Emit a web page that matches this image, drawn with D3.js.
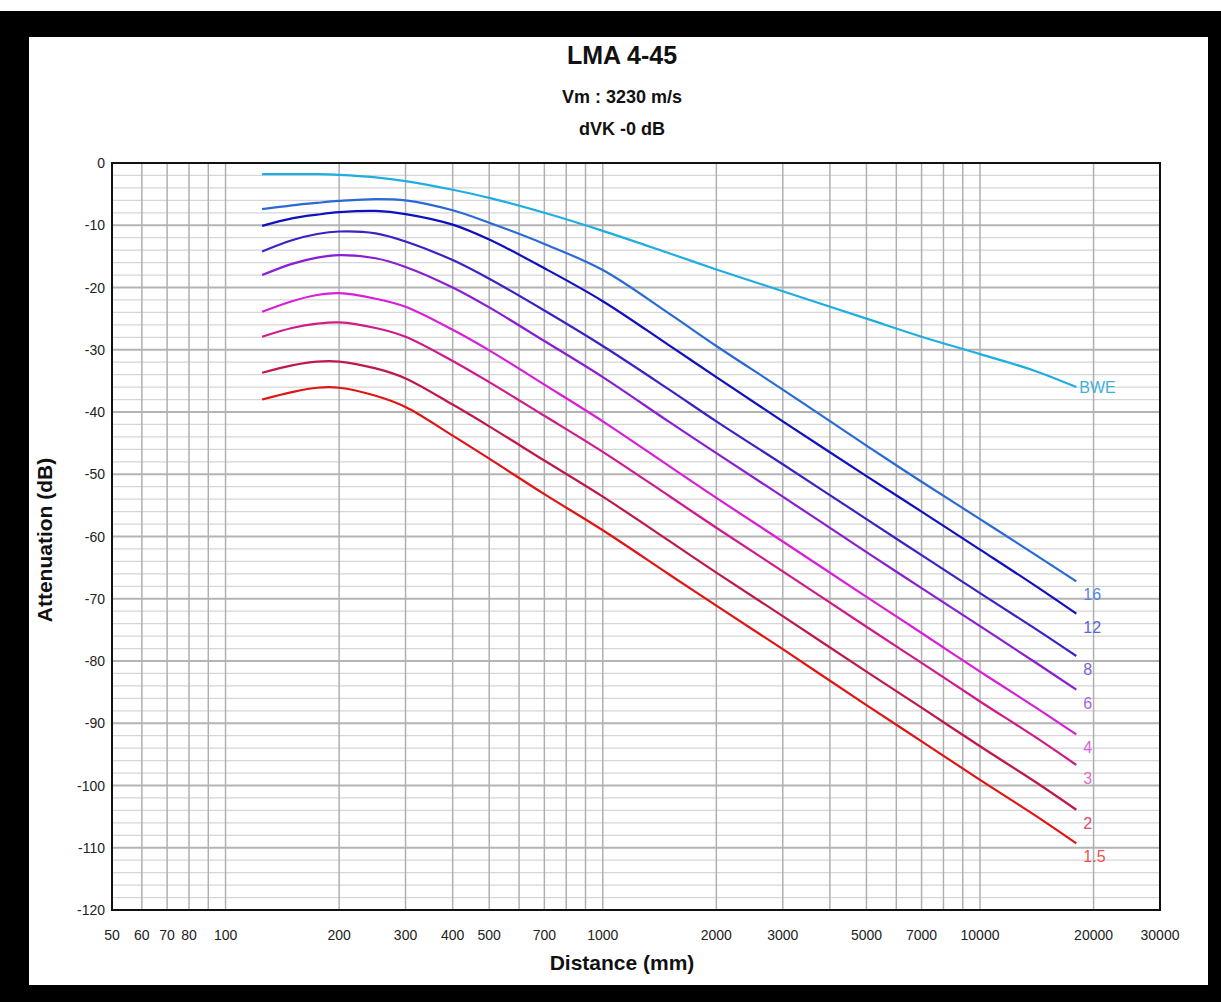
<!DOCTYPE html>
<html>
<head>
<meta charset="utf-8">
<script src="https://cdn.jsdelivr.net/npm/d3@7"></script>
<style>
  body { margin: 0; background: #fff; }
  .tick-label { font-family: "Liberation Sans Narrow", "Arial Narrow", "Liberation Sans", sans-serif; font-size: 14px; fill: #222; }
  .title { font-family: "Liberation Sans", Arial, sans-serif; font-weight: bold; fill: #111; }
</style>
</head>
<body>
<div id="chart"></div>
<script>
// distances (mm) where the curves were read
const distances = [125, 150, 175, 200, 250, 300, 400, 500, 700, 1000, 1500, 2000, 3000, 5000, 7000, 10000, 14000, 18000];

// attenuation (dB) per curve
const bwe  = [-1.8, -1.8, -1.8, -1.9, -2.3, -2.9, -4.3, -5.6, -8.0, -10.9, -14.5, -17.1, -20.6, -25.0, -27.9, -30.7, -33.4, -36.0];
const ks16 = [-7.4, -6.8, -6.4, -6.1, -5.8, -6.0, -7.6, -9.6, -13.0, -17.2, -24.2, -29.4, -36.4, -45.4, -51.2, -57.2, -62.9, -67.2];
const ks12 = [-10.1, -8.9, -8.3, -7.9, -7.7, -8.2, -9.9, -12.3, -16.9, -22.2, -29.3, -34.4, -41.5, -50.3, -56.0, -62.1, -67.9, -72.4];
const ks8  = [-14.2, -12.4, -11.4, -11.0, -11.3, -12.6, -15.6, -18.6, -23.7, -29.4, -36.4, -41.5, -48.4, -57.2, -63.0, -69.1, -74.8, -79.2];
const ks6  = [-18.0, -16.2, -15.2, -14.8, -15.3, -16.7, -20.0, -23.2, -28.6, -34.4, -41.6, -46.6, -53.6, -62.5, -68.3, -74.4, -80.2, -84.6];
const ks4  = [-23.9, -22.2, -21.2, -20.9, -21.8, -23.1, -26.8, -30.1, -35.6, -41.5, -48.7, -53.8, -60.8, -69.7, -75.5, -81.7, -87.4, -91.8];
const ks3  = [-27.9, -26.5, -25.8, -25.6, -26.5, -27.9, -31.8, -35.2, -40.6, -46.4, -53.5, -58.6, -65.6, -74.5, -80.3, -86.5, -92.2, -96.7];
const ks2  = [-33.7, -32.5, -31.9, -31.9, -33.0, -34.6, -38.8, -42.3, -47.8, -53.6, -60.7, -65.8, -72.8, -81.7, -87.5, -93.7, -99.4, -103.9];
const ks15 = [-38.0, -36.8, -36.1, -36.1, -37.4, -39.2, -43.8, -47.5, -53.2, -59.0, -66.1, -71.1, -78.1, -87.1, -92.9, -99.1, -104.8, -109.3];

const seriesNames = ["BWE", "16", "12", "8", "6", "4", "3", "2", "1.5"];
const seriesValues = [bwe, ks16, ks12, ks8, ks6, ks4, ks3, ks2, ks15];
const lineColors  = ["#1eaee2", "#2a6ad6", "#1010c0", "#3c22c4", "#8a1ed2", "#d81ed8", "#d01a8c", "#c01848", "#e01414"];
const labelColors = ["#3eb0e0", "#5a84e0", "#5a64d8", "#7a62dc", "#a464e0", "#e060e0", "#e070c0", "#e04878", "#f05050"];

const xTickLabels = [50, 60, 70, 80, 100, 200, 300, 400, 500, 700, 1000, 2000, 3000, 5000, 7000, 10000, 20000, 30000];
const yTickLabels = [0, -10, -20, -30, -40, -50, -60, -70, -80, -90, -100, -110, -120];

const width = 1221, height = 1002;
const plotLeft = 112, plotRight = 1160, plotTop = 163, plotBottom = 910;

const svg = d3.select("#chart").append("svg")
    .attr("width", width)
    .attr("height", height);

// black frame round the picture
svg.append("rect").attr("x", 0).attr("y", 11).attr("width", width).attr("height", height - 11).attr("fill", "#000");
svg.append("rect").attr("x", 29).attr("y", 37).attr("width", 1208 - 29).attr("height", 985 - 37).attr("fill", "#fff");

const x = d3.scaleLog().domain([50, 30000]).range([plotLeft, plotRight]);
const y = d3.scaleLinear().domain([-120, 0]).range([plotBottom, plotTop]);

// grid
const grid = svg.append("g");
grid.selectAll(".hminor")
    .data(d3.range(-118, 0, 2).filter(v => v % 10 !== 0))
    .join("line")
    .attr("x1", plotLeft).attr("x2", plotRight)
    .attr("y1", d => y(d)).attr("y2", d => y(d))
    .attr("stroke", "#d6d6d6").attr("stroke-width", 1.2);
grid.selectAll(".hmajor")
    .data(yTickLabels.filter(v => v > -120 && v < 0))
    .join("line")
    .attr("x1", plotLeft).attr("x2", plotRight)
    .attr("y1", d => y(d)).attr("y2", d => y(d))
    .attr("stroke", "#b4b4b4").attr("stroke-width", 2);
grid.selectAll(".vline")
    .data(x.ticks().filter(v => v > 50 && v < 30000))
    .join("line")
    .attr("x1", d => x(d)).attr("x2", d => x(d))
    .attr("y1", plotTop).attr("y2", plotBottom)
    .attr("stroke", "#b0b0b0").attr("stroke-width", 1.5);

// plot border
svg.append("rect")
    .attr("x", plotLeft).attr("y", plotTop)
    .attr("width", plotRight - plotLeft).attr("height", plotBottom - plotTop)
    .attr("fill", "none").attr("stroke", "#111").attr("stroke-width", 2);

// tick labels
svg.append("g").selectAll("text")
    .data(yTickLabels)
    .join("text")
    .attr("class", "tick-label")
    .attr("x", plotLeft - 7)
    .attr("y", d => y(d) + 5)
    .attr("text-anchor", "end")
    .text(d => d);

svg.append("g").selectAll("text")
    .data(xTickLabels)
    .join("text")
    .attr("class", "tick-label")
    .attr("x", d => x(d))
    .attr("y", plotBottom + 30)
    .attr("text-anchor", "middle")
    .text(d => d);

// curves
const line = d3.line()
    .x(d => x(d[0]))
    .y(d => y(d[1]))
    .curve(d3.curveCatmullRom.alpha(0.5));

seriesValues.forEach((vals, i) => {
    const pts = distances.map((d, j) => [d, vals[j]]);
    svg.append("path")
        .attr("d", line(pts))
        .attr("fill", "none")
        .attr("stroke", lineColors[i])
        .attr("stroke-width", 2.2)
        .attr("stroke-linejoin", "round");

    const last = pts[pts.length - 1];
    const isBwe = seriesNames[i] === "BWE";
    svg.append("text")
        .attr("x", x(last[0]) + (isBwe ? 3 : 7))
        .attr("y", y(last[1]) + (isBwe ? 6 : 19))
        .attr("font-family", "Liberation Sans, Arial, sans-serif")
        .attr("font-size", 16)
        .attr("fill", labelColors[i])
        .text(seriesNames[i]);
});

// titles
svg.append("text").attr("class", "title").attr("x", 622).attr("y", 64)
    .attr("text-anchor", "middle").attr("font-size", 25).text("LMA 4-45");
svg.append("text").attr("class", "title").attr("x", 622).attr("y", 103)
    .attr("text-anchor", "middle").attr("font-size", 18).text("Vm : 3230 m/s");
svg.append("text").attr("class", "title").attr("x", 622).attr("y", 135)
    .attr("text-anchor", "middle").attr("font-size", 18).text("dVK -0 dB");

svg.append("text").attr("class", "title")
    .attr("transform", "translate(52,540) rotate(-90)")
    .attr("text-anchor", "middle").attr("font-size", 21)
    .text("Attenuation (dB)");
svg.append("text").attr("class", "title")
    .attr("x", 622).attr("y", 970)
    .attr("text-anchor", "middle").attr("font-size", 21)
    .text("Distance (mm)");
</script>
</body>
</html>
